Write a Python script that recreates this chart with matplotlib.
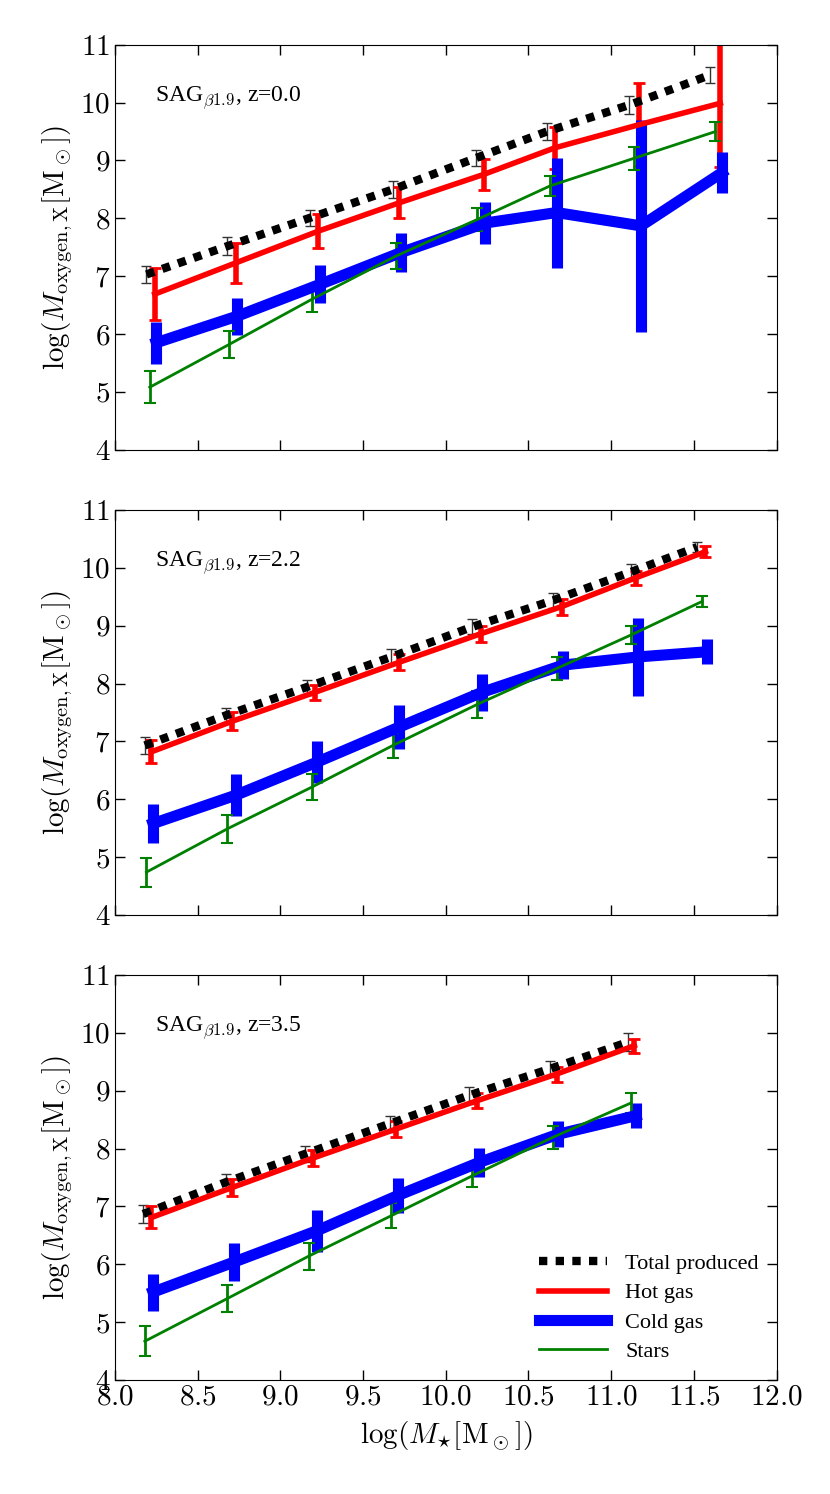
import numpy as np
import matplotlib
matplotlib.use('Agg')
import matplotlib.pyplot as plt
from matplotlib.ticker import FuncFormatter
from matplotlib.lines import Line2D

plt.rcParams['font.family'] = ['Liberation Serif', 'DejaVu Serif']
plt.rcParams['mathtext.fontset'] = 'cm'

# ---- data: z = 0.0
x_tot_0 = [8.19, 8.68, 9.18, 9.68, 10.18, 10.61, 11.11, 11.60]
y_tot_0 = [7.03, 7.52, 8.01, 8.50, 9.04, 9.50, 9.96, 10.48]
e_tot_0 = [0.15, 0.15, 0.14, 0.14, 0.14, 0.14, 0.15, 0.14]
x_hot_0 = [8.24, 8.73, 9.23, 9.72, 10.23, 10.66, 11.17, 11.66]
y_hot_0 = [6.69, 7.23, 7.78, 8.27, 8.76, 9.22, 9.62, 9.99]
e_hot_0 = [0.45, 0.35, 0.30, 0.27, 0.27, 0.36, 0.72, 1.10]
x_cold_0 = [8.25, 8.74, 9.24, 9.73, 10.24, 10.67, 11.18, 11.67]
y_cold_0 = [5.85, 6.31, 6.86, 7.41, 7.92, 8.10, 7.87, 8.79]
e_cold_0 = [0.36, 0.32, 0.33, 0.33, 0.37, 0.95, 1.83, 0.36]
x_star_0 = [8.21, 8.69, 9.19, 9.70, 10.19, 10.63, 11.14, 11.63]
y_star_0 = [5.08, 5.82, 6.60, 7.35, 7.98, 8.56, 9.04, 9.50]
e_star_0 = [0.28, 0.24, 0.22, 0.22, 0.20, 0.18, 0.20, 0.17]

# ---- data: z = 2.2
x_tot_2 = [8.18, 8.67, 9.16, 9.67, 10.16, 10.65, 11.12, 11.52]
y_tot_2 = [6.93, 7.45, 7.94, 8.46, 8.98, 9.44, 9.93, 10.36]
e_tot_2 = [0.14, 0.13, 0.13, 0.13, 0.13, 0.13, 0.13, 0.08]
x_hot_2 = [8.22, 8.71, 9.21, 9.72, 10.21, 10.70, 11.15, 11.57]
y_hot_2 = [6.82, 7.35, 7.85, 8.37, 8.86, 9.33, 9.83, 10.28]
e_hot_2 = [0.20, 0.15, 0.13, 0.14, 0.14, 0.14, 0.12, 0.10]
x_cold_2 = [8.23, 8.73, 9.22, 9.72, 10.22, 10.71, 11.16, 11.58]
y_cold_2 = [5.58, 6.07, 6.64, 7.25, 7.85, 8.32, 8.46, 8.55]
e_cold_2 = [0.33, 0.36, 0.36, 0.38, 0.32, 0.24, 0.68, 0.22]
x_star_2 = [8.19, 8.68, 9.19, 9.68, 10.19, 10.67, 11.12, 11.55]
y_star_2 = [4.74, 5.49, 6.21, 6.93, 7.64, 8.26, 8.84, 9.42]
e_star_2 = [0.25, 0.24, 0.22, 0.22, 0.23, 0.20, 0.16, 0.09]

# ---- data: z = 3.5
x_tot_3 = [8.17, 8.67, 9.15, 9.66, 10.14, 10.63, 11.10]
y_tot_3 = [6.87, 7.42, 7.91, 8.43, 8.92, 9.38, 9.84]
e_tot_3 = [0.15, 0.14, 0.14, 0.14, 0.14, 0.14, 0.16]
x_hot_3 = [8.22, 8.71, 9.20, 9.70, 10.19, 10.67, 11.14]
y_hot_3 = [6.81, 7.33, 7.84, 8.34, 8.83, 9.29, 9.78]
e_hot_3 = [0.19, 0.15, 0.14, 0.14, 0.13, 0.13, 0.12]
x_cold_3 = [8.23, 8.72, 9.22, 9.71, 10.20, 10.68, 11.15]
y_cold_3 = [5.52, 6.04, 6.58, 7.19, 7.76, 8.25, 8.57]
e_cold_3 = [0.32, 0.33, 0.36, 0.30, 0.25, 0.23, 0.22]
x_star_3 = [8.18, 8.68, 9.17, 9.67, 10.16, 10.65, 11.12]
y_star_3 = [4.67, 5.41, 6.14, 6.84, 7.53, 8.20, 8.79]
e_star_3 = [0.26, 0.24, 0.23, 0.22, 0.20, 0.20, 0.17]

labels = ['Total produced', 'Hot gas', 'Cold gas', 'Stars']
redshifts = ['z=0.0', 'z=2.2', 'z=3.5']

panels = [
    ((x_tot_0, y_tot_0, e_tot_0), (x_hot_0, y_hot_0, e_hot_0),
     (x_cold_0, y_cold_0, e_cold_0), (x_star_0, y_star_0, e_star_0)),
    ((x_tot_2, y_tot_2, e_tot_2), (x_hot_2, y_hot_2, e_hot_2),
     (x_cold_2, y_cold_2, e_cold_2), (x_star_2, y_star_2, e_star_2)),
    ((x_tot_3, y_tot_3, e_tot_3), (x_hot_3, y_hot_3, e_hot_3),
     (x_cold_3, y_cold_3, e_cold_3), (x_star_3, y_star_3, e_star_3)),
]

fig = plt.figure(figsize=(8.3, 14.94), dpi=100)
left, width, height = 0.1386, 0.797, 0.271
bottoms = [0.699, 0.3876, 0.0763]

for i, (tot, hot, cold, star) in enumerate(panels):
    ax = fig.add_axes([left, bottoms[i], width, height])
    # total produced - thick dotted black
    ax.errorbar(tot[0], tot[1], yerr=tot[2], color='k', lw=6, dashes=(1, 1),
                elinewidth=1, ecolor='0.2', capsize=3.5, capthick=1)
    ax.errorbar(hot[0], hot[1], yerr=hot[2], color='r', lw=4,
                elinewidth=4, capsize=4, capthick=2)
    ax.errorbar(cold[0], cold[1], yerr=cold[2], color='b', lw=8,
                elinewidth=8, capsize=0)
    ax.errorbar(star[0], star[1], yerr=star[2], color='green', lw=2,
                elinewidth=2, capsize=4, capthick=1.5)

    ax.set_xlim(8.0, 12.0)
    ax.set_ylim(4, 11)
    ax.set_xticks(np.arange(8.0, 12.01, 0.5))
    ax.set_yticks(range(4, 12))
    ax.tick_params(direction='in', top=True, right=True, length=7, width=1,
                   labelsize=21)
    ax.yaxis.set_major_formatter(FuncFormatter(lambda v, p: r'$%d$' % v))
    if i == 2:
        ax.xaxis.set_major_formatter(FuncFormatter(lambda v, p: r'$%.1f$' % v))
        ax.set_xlabel(r'$\log(M_{\star}[{\rm M_\odot}])$', fontsize=21, labelpad=6)
        handles = [Line2D([], [], color='k', lw=6, dashes=(1, 1)),
                   Line2D([], [], color='r', lw=4),
                   Line2D([], [], color='b', lw=8),
                   Line2D([], [], color='green', lw=2)]
        ax.legend(handles, labels, loc='lower right', frameon=False, fontsize=16,
                  handlelength=3.1, labelspacing=0.4, handletextpad=0.8,
                  borderaxespad=0.4)
    else:
        ax.set_xticklabels([])
    ax.set_ylabel(r'$\log(M_{\rm oxygen,X}[{\rm M_\odot}])$', fontsize=21, labelpad=4)
    ax.text(0.06, 0.87, r'SAG$_{\beta 1.9}$, ' + redshifts[i], transform=ax.transAxes,
            fontsize=17, va='center', ha='left')

fig.savefig('out.png', dpi=100)
